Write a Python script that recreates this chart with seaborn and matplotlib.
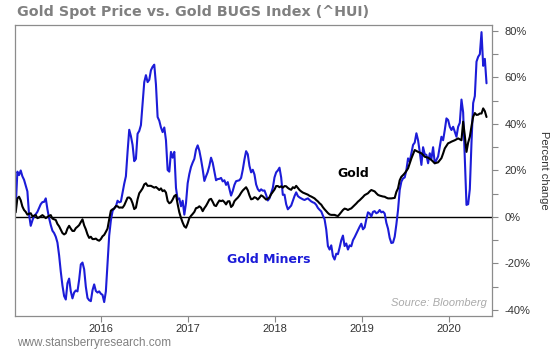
import matplotlib
matplotlib.use("Agg")
import matplotlib.pyplot as plt
from matplotlib.ticker import MultipleLocator, FuncFormatter
import pandas as pd
import seaborn as sns

# weekly closes, percent change since early Jan 2015
start_date = "2015-01-09"

miners = [
    4, 19.5, 18, 20, 17.5, 16, 13.5, 11, 1, -3.8,
    -1.5, 0.5, 1.2, 2.2, 3.9, 5.5, 6.4, 6.5, 8, 3.3,
    -0.5, -3.5, -5.9, -6.9, -8.5, -11, -16.5, -23.5, -29.5, -34,
    -35.5, -28.5, -26.5, -32, -35, -32.5, -31.6, -32, -27, -20.4,
    -19.6, -22.5, -30, -34.8, -35.8, -36.2, -31.5, -29, -31.8, -32.5,
    -32, -33, -33.5, -36.6, -32, -20, -8, -1.5, 2.5, 3.8,
    4.5, 7, 6.3, 6.6, 10.5, 14.3, 17.5, 28, 37.5, 34.8,
    31, 24, 25, 35.8, 37, 39.5, 48.5, 58, 61, 58,
    59, 63.1, 64.6, 65.5, 57, 43, 41.4, 38.5, 36.5, 38.5,
    33, 20.2, 19.5, 28, 25.5, 28, 12.5, 7.5, 8, 4.6,
    7, 1, 6, 14.5, 18.5, 21.5, 23.4, 25, 29, 30.8,
    28.5, 24.8, 20.5, 15.5, 17.5, 19.3, 22, 25.5, 23.3, 19.6,
    15.8, 16.3, 16.4, 16.8, 15.3, 15.8, 13.8, 15, 12, 9.2,
    11.2, 13.8, 15.4, 15.6, 15.8, 16.8, 20.3, 24.7, 28.3, 27,
    22, 19.2, 20.3, 18.3, 14, 12, 11.1, 11.9, 11.3, 11.4,
    9.5, 7.1, 8, 10.3, 12.5, 17, 19.2, 20, 21.2, 17,
    9.5, 9.6, 5.5, 3.3, 4.1, 4.9, 7, 9, 10.6, 9,
    8.4, 8, 7.6, 7.3, 7.7, 8, 7.3, 6.7, 6.3, 6,
    5.2, 3.9, 3.1, 2.4, 0.6, -1, -5.4, -12.5, -14, -12.2,
    -16.8, -18.3, -15.8, -16, -13.2, -10, -8, -12.5, -11.4, -14,
    -12.2, -12.6, -10, -8.7, -7.2, -5.7, -4.2, -2.9, -5.3, -4.5,
    -1, 2, 1.5, 0.2, 2.2, 2.5, 1.6, 2, 3, 2,
    2.3, 1.5, -2.5, -5, -9, -11.2, -11, -8.5, -3.2, 3,
    11.6, 15.2, 16.6, 17, 20.2, 25.2, 23.8, 27.4, 31, 32,
    36, 33, 28, 22.4, 30, 27, 26.7, 23.1, 27.4, 25,
    30, 23.1, 24.5, 26, 30.2, 34.5, 33, 37.4, 42.4, 41.7,
    38.8, 37.4, 38.8, 36.7, 34.5, 38.8, 40.5, 50.5, 45, 25,
    5.2, 5.5, 12, 32, 49, 52, 66.8, 68.9, 70, 79.5,
    65, 68, 57.5,
]

gold = [
    2, 8, 8.7, 7.2, 4.5, 3, 2.2, 1, 1.4, 1.6,
    0.3, 0.5, 0.8, -0.5, -0.2, 0.3, 0.8, 0.2, -0.5, 0,
    0.5, 0.8, -0.7, -1, -1.3, -3, -4, -5.4, -6.9, -7.5,
    -7, -5, -3.8, -5, -6, -6, -4.8, -4.2, -3.5, -2.2,
    -1, -3.6, -5.3, -7.5, -9, -8.5, -9.5, -9.5, -9.3, -9.9,
    -10.2, -9.5, -8.3, -7.7, -6.4, -5, -1, 2.7, 3.3, 3.6,
    4.7, 4.6, 4, 4.1, 4, 5, 6.7, 8.3, 8.4, 7.7,
    5.9, 3.4, 4, 7.6, 10.2, 11.2, 12.3, 14, 14.5, 13.4,
    13.4, 13.4, 13, 12.6, 12.9, 12.3, 11.6, 12.3, 11.1, 11.5,
    10.5, 6.9, 5.9, 6.3, 7.5, 9, 9.5, 5.5, 2, -0.4,
    -2.4, -4, -4.6, -2.8, -0.5, 0.5, 1.3, 2.2, 3.8, 4,
    4.6, 4, 2.5, 3.8, 4.8, 6.1, 7.5, 7.8, 6.5, 5,
    4.7, 6, 7.1, 6.8, 7.1, 6.4, 5.4, 6.7, 6.8, 4.3,
    5, 6.8, 7.6, 8.3, 9.2, 10.4, 11.4, 12.1, 12.8, 11.5,
    9.3, 7.6, 7.8, 8.5, 8.2, 7.5, 8.3, 9.3, 8.9, 8.2,
    7.5, 7.8, 8.5, 9.8, 10.8, 11.8, 13.3, 13.3, 12.8, 13.2,
    12.6, 13.3, 13.2, 12.5, 12, 11.7, 12.8, 12.4, 13.4, 12.5,
    11.6, 11, 10.5, 10.2, 9.9, 9.6, 9.1, 8.8, 8.4, 8,
    7.3, 6.7, 5.9, 5.3, 4.2, 3.3, 2.5, 1.7, 1.1, 0.9,
    0.9, 0.9, 0.6, 0.4, 1.2, 2.1, 3, 3.6, 3.4, 3,
    3.4, 3.7, 4.4, 5.1, 5.8, 6.6, 7.2, 7.9, 8.6, 9.4,
    9.8, 10.2, 11, 11.6, 11.3, 11, 10.2, 9.5, 9.2, 9,
    8.8, 8.7, 8.3, 8, 8, 8, 8.1, 8.2, 10.8, 12.3,
    15.8, 17.3, 18, 18.8, 19.8, 20.9, 23, 25.2, 27, 28.8,
    28.4, 28, 27.7, 27.4, 26.7, 25.9, 25.7, 25.5, 25, 24.5,
    23.8, 23.1, 23.3, 23.5, 24.4, 25.3, 27.3, 29.5, 30.6, 31.7,
    32, 32.4, 32.7, 33, 33.4, 33.8, 33.4, 33, 41, 35,
    28, 32, 34.5, 39, 43.1, 44.7, 43.9, 44, 44.5, 44.5,
    46.7, 45.5, 43,
]

year_ticks = ["2016", "2017", "2018", "2019", "2020"]

dates = pd.date_range(start_date, periods=len(gold), freq="7D")
df = pd.DataFrame({"date": dates, "gold": gold, "miners": miners})

sns.set_style("white")
plt.rcParams["font.family"] = ["Liberation Sans", "DejaVu Sans"]

fig = plt.figure(figsize=(5.53, 3.53), dpi=100)
ax = fig.add_axes([0.0271, 0.1034, 0.8626, 0.826])

blue = "#1c1cd8"
sns.lineplot(data=df, x="date", y="miners", color=blue, lw=1.5, ax=ax)
sns.lineplot(data=df, x="date", y="gold", color="black", lw=1.5, ax=ax)
ax.axhline(0, color="black", lw=1.0, zorder=1)

ax.set_xlim(pd.Timestamp("2015-01-06"), pd.Timestamp("2020-06-28"))
ax.set_ylim(-42.8, 82.6)

ax.set_xticks([pd.Timestamp(f"{y}-01-01") for y in year_ticks])
ax.set_xticklabels(year_ticks)
ax.yaxis.tick_right()
ax.yaxis.set_label_position("right")
ax.yaxis.set_major_locator(MultipleLocator(20))
ax.yaxis.set_minor_locator(MultipleLocator(10))
ax.yaxis.set_major_formatter(FuncFormatter(lambda v, p: f"{v:.0f}%"))
ax.tick_params(axis="both", which="both", direction="out", length=4, width=0.8,
               color="#888888", labelsize=8, labelcolor="#333333")
ax.tick_params(axis="y", which="both", left=False, right=True, pad=5)
ax.tick_params(axis="x", bottom=True, pad=1.5)

for s in ax.spines.values():
    s.set_color("#8c8c8c")
    s.set_linewidth(0.9)

ax.set_xlabel("")
ax.set_ylabel("Percent change", rotation=270, fontsize=8, color="#333333", labelpad=13)

ax.text(pd.Timestamp("2018-11-23"), 18.9, "Gold", fontsize=9, fontweight="bold",
        family="DejaVu Sans", color="black", ha="center", va="center")
ax.text(pd.Timestamp("2017-12-05"), -18.5, "Gold Miners", fontsize=9, fontweight="bold",
        family="DejaVu Sans", color=blue, ha="center", va="center")
ax.text(0.99, 0.03, "Source: Bloomberg", transform=ax.transAxes, fontsize=8,
        style="italic", color="#aaaaaa", ha="right", va="bottom")

fig.text(0.031, 0.965, "Gold Spot Price vs. Gold BUGS Index (^HUI)", fontsize=10.3,
         fontweight="bold", family="DejaVu Sans", color="#808080", ha="left", va="center")
fig.text(0.031, 0.028, "www.stansberryresearch.com", fontsize=8.5, color="#808080",
         ha="left", va="center")

fig.savefig("out.png", dpi=100)
plt.close(fig)
